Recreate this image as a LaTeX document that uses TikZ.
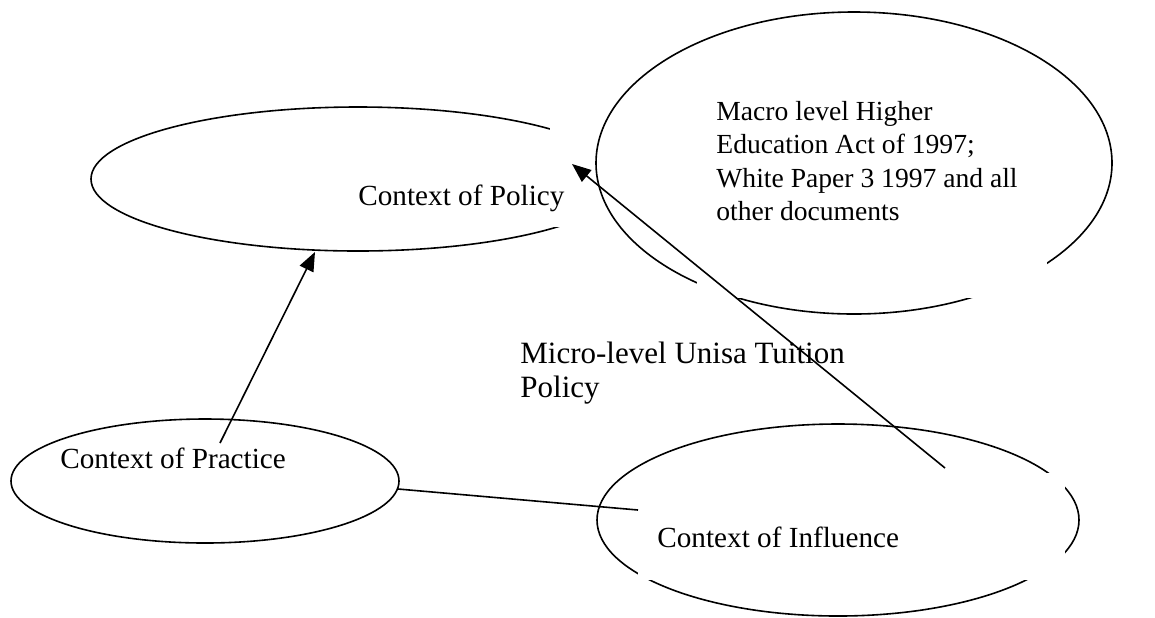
\documentclass[tikz,border=0pt]{standalone}
\usepackage{fontspec}
\setmainfont{Liberation Serif}
\usetikzlibrary{shapes.geometric,arrows.meta}
\begin{document}
\begin{tikzpicture}[x=0.5pt,y=-0.5pt,
  oval/.style={draw,ellipse,inner sep=0pt,outer sep=0pt,line width=0.8pt},
  mask/.style={fill=white,draw=none},
  ctx/.style={anchor=base west,inner sep=0pt,font=\fontsize{14.6}{17}\selectfont},
  mac/.style={anchor=base west,inner sep=0pt,font=\fontsize{13.8}{16.5}\selectfont},
  mic/.style={anchor=base west,inner sep=0pt,font=\fontsize{15.5}{17}\selectfont},
  conn/.style={line width=0.8pt},
  arr/.style={conn,-{Triangle[length=9.5pt,width=7.5pt]}}]
\useasboundingbox (0,0) rectangle (1155,617);
% Context of Policy ellipse, partly hidden by a white text frame
\node[oval,minimum width=267pt,minimum height=72pt] (policy) at (358,179) {};
\fill[mask] (550,128) rectangle (632,227);
% Macro ellipse
\node[oval,minimum width=258pt,minimum height=151pt] (macro) at (854,163) {};
\fill[mask] (697,75) rectangle (1047,298);
% Practice ellipse
\node[oval,minimum width=194pt,minimum height=62pt] (practice) at (205,481) {};
% Influence ellipse
\node[oval,minimum width=241pt,minimum height=96pt] (influence) at (838,520) {};
\fill[mask] (638,473) rectangle (1065,580);
% texts
\node[ctx] (tpolicy) at (358,205) {Context of Policy};
\node[ctx] (tpractice) at (60,468) {Context of Practice};
\node[ctx] (tinfluence) at (657,547) {Context of Influence};
\node[mac] (mac1) at (716,120) {Macro level Higher};
\node[mac] (mac2) at (716,153) {Education Act of 1997;};
\node[mac] (mac3) at (716,187) {White Paper 3 1997 and all};
\node[mac] (mac4) at (716,220) {other documents};
\node[mic] (mic1) at (520,363) {Micro-level Unisa Tuition};
\node[mic] (mic2) at (520,397) {Policy};
% connector end points
\coordinate (pracA) at (220,443);
\coordinate (polA) at (315,252);
\coordinate (infA) at (945,468);
\coordinate (polB) at (572,164);
\coordinate (pracB) at (398,489);
\coordinate (infB) at (638,510);
\draw[arr] (pracA) -- (polA);
\draw[arr] (infA) -- (polB);
\draw[conn] (pracB) -- (infB);
\end{tikzpicture}
\end{document}
